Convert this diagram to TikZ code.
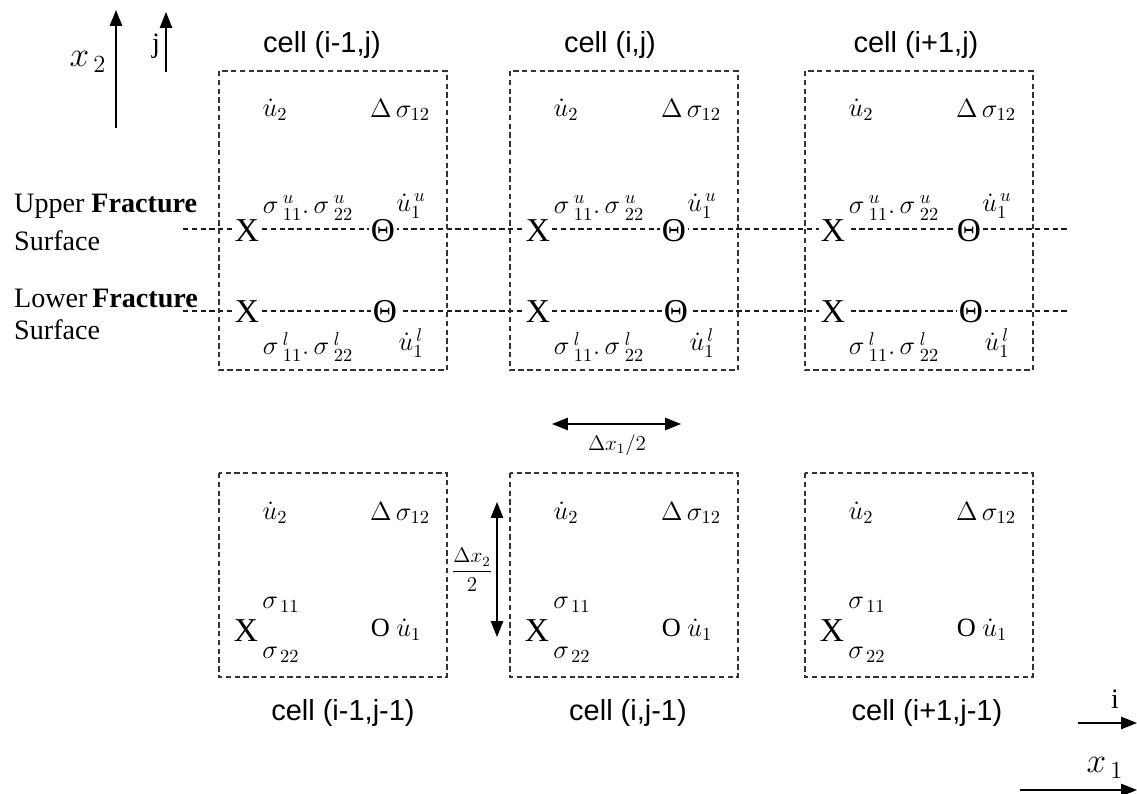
\documentclass[tikz,border=0pt]{standalone}
\usepackage{fix-cm}
\usepackage{fontspec}
\setmainfont{Liberation Serif}
\setsansfont{Liberation Sans}
\usetikzlibrary{arrows.meta}
\usepackage{xcolor}
\definecolor{boxline}{HTML}{333333}
\definecolor{fracline}{HTML}{1A1A1A}

\tikzset{
  cellbox/.style={draw=boxline, densely dashed, line width=0.7pt},
  surfline/.style={draw=fracline, densely dashed, line width=0.6pt},
  celltitle/.style={font=\sffamily\fontsize{16.5}{20}\selectfont},
  sidetext/.style={font=\fontsize{16}{18}\selectfont, anchor=west},
  qty/.style={font=\fontsize{15}{17}\selectfont, inner sep=0pt},
  ptmark/.style={font=\fontsize{19}{21}\selectfont, inner sep=0pt},
  axarrow/.style={-{Triangle[length=9pt,width=7pt]}, line width=0.8pt},
  dimarrow/.style={{Triangle[length=9pt,width=7pt]}-{Triangle[length=9pt,width=7pt]}, line width=0.8pt}
}

\begin{document}
\begin{tikzpicture}[x=0.02cm, y=-0.02cm]
  \useasboundingbox (0,0) rectangle (1137,794);
  % Axis arrows — top left
  \coordinate (xtwoS) at (116,128);
  \coordinate (xtwoE) at (116,10);
  \draw[axarrow] (xtwoS) -- (xtwoE);
  \node[font=\fontsize{20}{22}\selectfont] (xtwo) at (88,62) {$x_{\,2}$};
  \coordinate (jS) at (166,72);
  \coordinate (jE) at (166,12);
  \draw[axarrow, line width=0.6pt] (jS) -- (jE);
  \node[font=\fontsize{16}{18}\selectfont] (jlbl) at (156,46) {j};

  % Fracture surface lines
  \coordinate (upL) at (183,229);
  \coordinate (upR) at (1070,229);
  \coordinate (loL) at (183,311);
  \coordinate (loR) at (1070,311);
  \draw[surfline] (upL) -- (upR);
  \draw[surfline] (loL) -- (loR);
  \node[sidetext] (upperA) at (8,206) {Upper \textbf{Fracture}};
  \node[sidetext] (upperB) at (8,241) {Surface};
  \node[sidetext] (lowerA) at (8,298) {Lower\,\textbf{Fracture}};
  \node[sidetext] (lowerB) at (8,330) {Surface};

  % Top row — cell (i-1,j)
  \draw[cellbox] (219,71) rectangle (447,370);
  \node[celltitle] (tA) at (322,45) {cell (i-1,j)};
  \node[qty] (tAu) at (275,110) {$\dot{u}_2$};
  \node[qty] (tAd) at (400,110) {$\Delta\,\sigma_{12}$};
  \node[qty] (tAsu) at (308,208) {$\sigma\,^{u}_{11}.\,\sigma\,^{u}_{22}$};
  \node[qty] (tAvu) at (411,206) {$\dot{u}_1^{\,u}$};
  \node[ptmark, fill=white, inner sep=1pt] (tAxu) at (247,231) {X};
  \node[ptmark, fill=white, inner sep=1pt] (tAou) at (383,231) {Θ};
  \node[ptmark, fill=white, inner sep=1pt] (tAxl) at (247,312) {X};
  \node[ptmark, fill=white, inner sep=1pt] (tAol) at (385,312) {Θ};
  \node[qty] (tAsl) at (308,347) {$\sigma\,^{l}_{11}.\,\sigma\,^{l}_{22}$};
  \node[qty] (tAvl) at (411,343) {$\dot{u}_1^{\,l}$};

  % Top row — cell (i,j)
  \draw[cellbox] (510,71) rectangle (738,370);
  \node[celltitle] (tB) at (610,45) {cell (i,j)};
  \node[qty] (tBu) at (566,110) {$\dot{u}_2$};
  \node[qty] (tBd) at (691,110) {$\Delta\,\sigma_{12}$};
  \node[qty] (tBsu) at (599,208) {$\sigma\,^{u}_{11}.\,\sigma\,^{u}_{22}$};
  \node[qty] (tBvu) at (702,206) {$\dot{u}_1^{\,u}$};
  \node[ptmark, fill=white, inner sep=1pt] (tBxu) at (538,231) {X};
  \node[ptmark, fill=white, inner sep=1pt] (tBou) at (674,231) {Θ};
  \node[ptmark, fill=white, inner sep=1pt] (tBxl) at (538,312) {X};
  \node[ptmark, fill=white, inner sep=1pt] (tBol) at (676,312) {Θ};
  \node[qty] (tBsl) at (599,347) {$\sigma\,^{l}_{11}.\,\sigma\,^{l}_{22}$};
  \node[qty] (tBvl) at (702,343) {$\dot{u}_1^{\,l}$};

  % Top row — cell (i+1,j)
  \draw[cellbox] (805,71) rectangle (1033,370);
  \node[celltitle] (tC) at (916,45) {cell (i+1,j)};
  \node[qty] (tCu) at (861,110) {$\dot{u}_2$};
  \node[qty] (tCd) at (986,110) {$\Delta\,\sigma_{12}$};
  \node[qty] (tCsu) at (894,208) {$\sigma\,^{u}_{11}.\,\sigma\,^{u}_{22}$};
  \node[qty] (tCvu) at (997,206) {$\dot{u}_1^{\,u}$};
  \node[ptmark, fill=white, inner sep=1pt] (tCxu) at (833,231) {X};
  \node[ptmark, fill=white, inner sep=1pt] (tCou) at (969,231) {Θ};
  \node[ptmark, fill=white, inner sep=1pt] (tCxl) at (833,312) {X};
  \node[ptmark, fill=white, inner sep=1pt] (tCol) at (971,312) {Θ};
  \node[qty] (tCsl) at (894,347) {$\sigma\,^{l}_{11}.\,\sigma\,^{l}_{22}$};
  \node[qty] (tCvl) at (997,343) {$\dot{u}_1^{\,l}$};

  % Half-cell dimensions
  \coordinate (dxL) at (552,424);
  \coordinate (dxR) at (681,424);
  \draw[dimarrow] (dxL) -- (dxR);
  \node[qty, font=\fontsize{12}{14}\selectfont] (dxlbl) at (617,445) {$\Delta x_1/2$};
  \coordinate (dyT) at (497,502);
  \coordinate (dyB) at (497,637);
  \draw[dimarrow] (dyT) -- (dyB);
  \node[qty, font=\fontsize{12}{14}\selectfont] (dylbl) at (472,570) {$\displaystyle\frac{\Delta x_2}{2}$};

  % Bottom row — cell (i-1,j-1)
  \draw[cellbox] (219,473) rectangle (447,677);
  \node[celltitle] (bA) at (343,713) {cell (i-1,j-1)};
  \node[qty] (bAu) at (275,513) {$\dot{u}_2$};
  \node[qty] (bAd) at (400,513) {$\Delta\,\sigma_{12}$};
  \node[ptmark] (bAx) at (246,631) {X};
  \node[qty] (bAs1) at (281,605) {$\sigma_{\,11}$};
  \node[qty] (bAs2) at (281,655) {$\sigma_{\,22}$};
  \node[qty] (bAo) at (396,630) {O $\dot{u}_1$};

  % Bottom row — cell (i,j-1)
  \draw[cellbox] (510,473) rectangle (738,677);
  \node[celltitle] (bB) at (628,713) {cell (i,j-1)};
  \node[qty] (bBu) at (566,513) {$\dot{u}_2$};
  \node[qty] (bBd) at (691,513) {$\Delta\,\sigma_{12}$};
  \node[ptmark] (bBx) at (537,631) {X};
  \node[qty] (bBs1) at (572,605) {$\sigma_{\,11}$};
  \node[qty] (bBs2) at (572,655) {$\sigma_{\,22}$};
  \node[qty] (bBo) at (687,630) {O $\dot{u}_1$};

  % Bottom row — cell (i+1,j-1)
  \draw[cellbox] (805,473) rectangle (1033,677);
  \node[celltitle] (bC) at (927,713) {cell (i+1,j-1)};
  \node[qty] (bCu) at (861,513) {$\dot{u}_2$};
  \node[qty] (bCd) at (986,513) {$\Delta\,\sigma_{12}$};
  \node[ptmark] (bCx) at (832,631) {X};
  \node[qty] (bCs1) at (867,605) {$\sigma_{\,11}$};
  \node[qty] (bCs2) at (867,655) {$\sigma_{\,22}$};
  \node[qty] (bCo) at (982,630) {O $\dot{u}_1$};

  % Axis arrows — bottom right
  \coordinate (iS) at (1078,723);
  \coordinate (iE) at (1137,723);
  \draw[axarrow, line width=0.6pt] (iS) -- (iE);
  \node[font=\fontsize{16}{18}\selectfont] (ilbl) at (1115,699) {i};
  \coordinate (xoneS) at (1020,790);
  \coordinate (xoneE) at (1137,790);
  \draw[axarrow, line width=0.6pt] (xoneS) -- (xoneE);
  \node[font=\fontsize{20}{22}\selectfont] (xone) at (1105,768) {$x_{\,1}$};
\end{tikzpicture}
\end{document}
